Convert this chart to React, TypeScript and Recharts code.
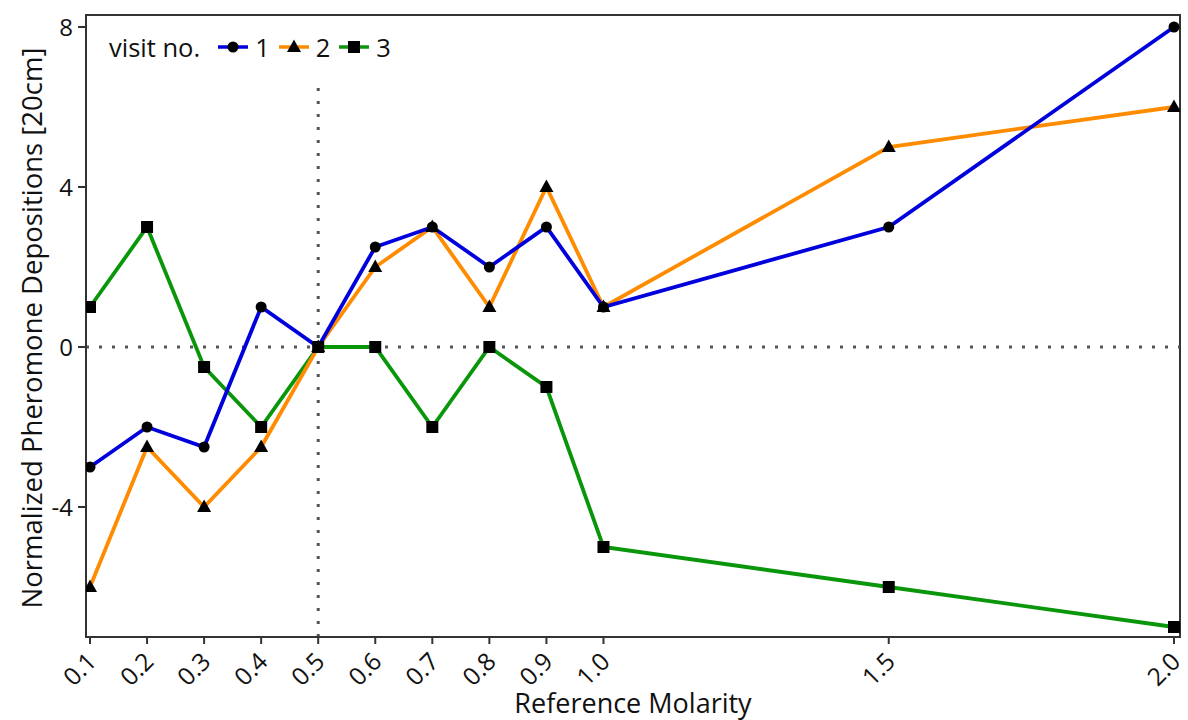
import React from 'react';
import {
  LineChart,
  Line,
  XAxis,
  YAxis,
  ReferenceLine,
  ReferenceArea,
} from 'recharts';

const molarity = [0.1, 0.2, 0.3, 0.4, 0.5, 0.6, 0.7, 0.8, 0.9, 1.0, 1.5, 2.0];
const visit1 = [-3, -2, -2.5, 1, 0, 2.5, 3, 2, 3, 1, 3, 8];
const visit2 = [-6, -2.5, -4, -2.5, 0, 2, 3, 1, 4, 1, 5, 6];
const visit3 = [1, 3, -0.5, -2, 0, 0, -2, 0, -1, -5, -6, -7];
const yTicks = [-4, 0, 4, 8];

const FONT = '"Open Sans", "Noto Sans", sans-serif';
const BLUE = '#0000dd';
const ORANGE = '#ff8c00';
const GREEN = '#0a960a';

const data = molarity.map((m, i) => ({
  m,
  v1: visit1[i],
  v2: visit2[i],
  v3: visit3[i],
}));

type Shape = 'circle' | 'triangle' | 'square';

function Marker({ cx, cy, shape }: { cx: number; cy: number; shape: Shape }) {
  if (cx == null || cy == null) return null;
  if (shape === 'circle') return <circle cx={cx} cy={cy} r={5.5} fill="#000" />;
  if (shape === 'triangle')
    return (
      <path
        d={`M${cx},${cy - 7.5} L${cx + 7},${cy + 5} L${cx - 7},${cy + 5} Z`}
        fill="#000"
      />
    );
  return <rect x={cx - 6} y={cy - 6} width={12} height={12} fill="#000" />;
}

const dotFor = (shape: Shape) => (props: any) => (
  <Marker key={`${shape}-${props.index}`} cx={props.cx} cy={props.cy} shape={shape} />
);

const series: { key: string; name: string; color: string; shape: Shape }[] = [
  { key: 'v1', name: '1', color: BLUE, shape: 'circle' },
  { key: 'v2', name: '2', color: ORANGE, shape: 'triangle' },
  { key: 'v3', name: '3', color: GREEN, shape: 'square' },
];

function XTick({ x, y, payload }: any) {
  return (
    <g transform={`translate(${x + 8},${y + 17})`}>
      <text
        textAnchor="end"
        transform="rotate(-45)"
        fontSize={24.5}
        fontFamily={FONT}
        fill="#111"
      >
        {Number(payload.value).toFixed(1)}
      </text>
    </g>
  );
}

function XTitle({ viewBox }: any) {
  const cx = viewBox.x + viewBox.width / 2;
  return (
    <text x={cx} y={713} textAnchor="middle" fontSize={27} fontFamily={FONT} fill="#111">
      Reference Molarity
    </text>
  );
}

function YTitle({ viewBox }: any) {
  const cy = viewBox.y + viewBox.height / 2;
  return (
    <text
      transform={`translate(42,${cy + 2}) rotate(-90)`}
      textAnchor="middle"
      fontSize={27.5}
      fontFamily={FONT}
      fill="#111"
    >
      Normalized Pheromone Depositions [20cm]
    </text>
  );
}

function LegendBox() {
  return (
    <div
      style={{
        position: 'absolute',
        left: 109,
        top: 31,
        display: 'flex',
        alignItems: 'center',
        fontFamily: FONT,
        fontSize: 25.5,
        lineHeight: '32px',
        color: '#111',
      }}
    >
      <span style={{ marginRight: 18 }}>visit no.</span>
      {series.map((s) => (
        <span key={s.key} style={{ display: 'flex', alignItems: 'center' }}>
          <svg width={30} height={20}>
            <line x1={0} y1={10} x2={30} y2={10} stroke={s.color} strokeWidth={3.5} />
            <Marker cx={15} cy={10} shape={s.shape} />
          </svg>
          <span style={{ marginLeft: 7, marginRight: 9 }}>{s.name}</span>
        </span>
      ))}
    </div>
  );
}

export default function App() {
  return (
    <div style={{ position: 'absolute', left: 0, top: 0, width: 1188, height: 720, background: '#fff', overflow: 'hidden' }}>
      <LineChart
        width={1188}
        height={720}
        data={data}
        margin={{ top: 15, right: 8, bottom: 0, left: 0 }}
      >
        <XAxis
          dataKey="m"
          type="number"
          domain={[0.093, 2.0105]}
          ticks={molarity}
          allowDataOverflow
          height={83}
          tickSize={7}
          tickMargin={2}
          stroke="#333"
          strokeWidth={2}
          tick={<XTick />}
          label={<XTitle />}
        />
        <YAxis
          type="number"
          domain={[-7.25, 8.3]}
          ticks={yTicks}
          allowDataOverflow
          width={86}
          tickSize={8}
          tickMargin={5}
          stroke="#333"
          strokeWidth={2}
          tick={{ fontSize: 24, fontFamily: FONT, fill: '#111' }}
          label={<YTitle />}
        />
        <ReferenceArea
          x1={0.093}
          x2={2.0105}
          y1={-7.25}
          y2={8.3}
          fill="none"
          stroke="#333"
          strokeWidth={2}
          ifOverflow="visible"
        />
        <ReferenceLine y={0} stroke="#555" strokeWidth={3} strokeDasharray="3 10" />
        <ReferenceLine
          segment={[
            { x: 0.5, y: -7.25 },
            { x: 0.5, y: 6.5 },
          ]}
          stroke="#555"
          strokeWidth={3}
          strokeDasharray="3 10"
        />
        {series
          .slice()
          .reverse()
          .map((s) => (
            <Line
              key={s.key}
              dataKey={s.key}
              name={s.name}
              stroke={s.color}
              strokeWidth={3.8}
              dot={dotFor(s.shape)}
              activeDot={false}
              isAnimationActive={false}
            />
          ))}
      </LineChart>
      <LegendBox />
    </div>
  );
}
